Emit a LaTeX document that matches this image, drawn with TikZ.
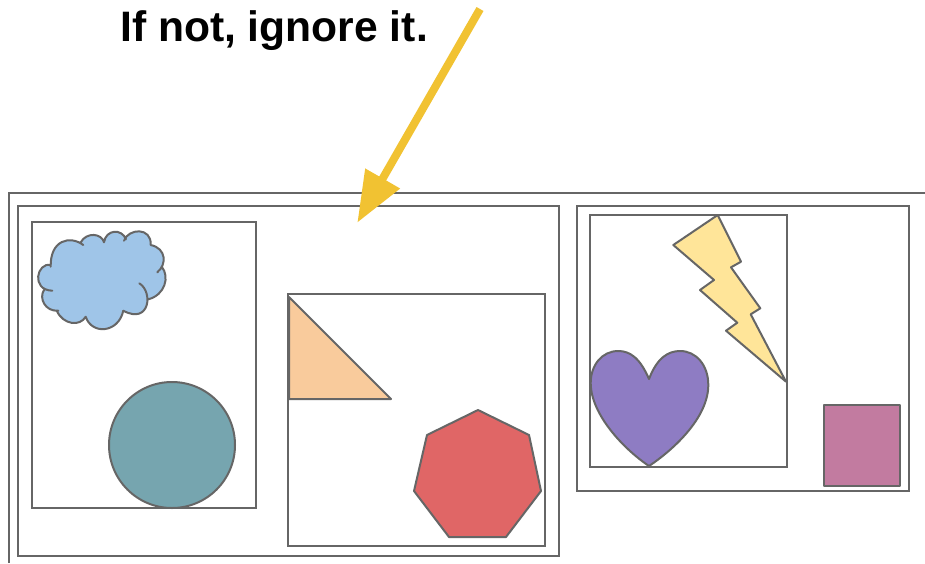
\documentclass[tikz,border=0pt]{standalone}
\usepackage{fontspec}
\setmainfont{Liberation Sans}
\usetikzlibrary{arrows.meta}
\definecolor{edgegray}{HTML}{666666}
\definecolor{arrowyellow}{HTML}{F1C232}
\definecolor{cloudblue}{HTML}{9FC5E8}
\definecolor{discteal}{HTML}{76A5AF}
\definecolor{wedgepeach}{HTML}{F9CB9C}
\definecolor{heptared}{HTML}{E06666}
\definecolor{boltyellow}{HTML}{FFE599}
\definecolor{heartpurple}{HTML}{8E7CC3}
\definecolor{squaremauve}{HTML}{C27BA0}
\newcommand{\cloudlobes}{
  (50.7,266.7) .. controls (50,240) and (70,235) .. (83.3,245)
  (80.7,242.3) .. controls (86.7,231.7) and (101.7,233.3) .. (104,242.3)
  (104,242.3) .. controls (106,229.3) and (121.7,228.3) .. (126,239.3)
  (124,240.7) .. controls (128.3,228.3) and (151.7,226.7) .. (150.7,245)
  (150.7,245) .. controls (166.7,248.3) and (166.7,265) .. (157.3,272.3)
  (161.7,266.7) .. controls (170,276.7) and (165,295) .. (148.3,299.3)
  (139.3,283.3) .. controls (153.3,291.7) and (150,325) .. (123.3,310.7)
  (123.3,310.7) .. controls (118.3,333.3) and (91.7,335) .. (85.7,316.7)
  (85.7,316.7) .. controls (80,326.7) and (63.3,325) .. (56.7,310.7)
  (58.3,310.7) .. controls (45,311.7) and (38.7,298) .. (44,290)
  (52.3,290.7) .. controls (30.5,290) and (37,262) .. (50.7,265)
}
\tikzset{
  frame/.style={draw=edgegray,line width=2pt},
  shapeline/.style={draw=edgegray,line width=2pt,line join=round}
}
\begin{document}
\begin{tikzpicture}[x=1pt,y=-1pt]
  \useasboundingbox (0,0) rectangle (925,563);
  \fill[white] (0,0) rectangle (925,563);
  \node[anchor=base west,inner sep=0pt,font=\fontsize{42.6}{48}\selectfont\bfseries] (caption) at (120,41) {If not, ignore it.};
  % boxes
  \draw[frame] (8.5,563) -- (8.5,192.5) -- (925,192.5);
  \foreach \xa/\ya/\xb/\yb in {17.5/205.5/558.5/555.5,576.5/205.5/908.5/491,
                               31.5/222/255.5/508,287.5/294/544.5/546,
                               590/214.5/786.5/467}
    \draw[frame] (\xa,\ya) rectangle (\xb,\yb);
  % left box
  \fill[cloudblue] (50.7,266) -- (62,247) -- (81,241) -- (93,238) -- (104,242) -- (115,236)
    -- (125,240) -- (138,235) -- (151,245) -- (160,257) -- (159,270) -- (163,285) -- (148,299)
    -- (140,310) -- (123,311) -- (105,325) -- (86,317) -- (72,320) -- (57,311) -- (48,305)
    -- (45,291) -- (40,280) -- cycle;
  \fill[cloudblue] \cloudlobes;
  \draw[shapeline,line cap=round] \cloudlobes;
  \draw[shapeline,fill=discteal] (172,445) circle (63);
  \draw[shapeline,fill=wedgepeach] (289,297) -- (391,399) -- (289,399) -- cycle;
  \draw[shapeline,fill=heptared] (478,410) -- (529,435) -- (541,491) -- (506,537)
    -- (449,537) -- (414,491) -- (427,435) -- cycle;
  % right box
  \draw[shapeline,fill=boltyellow] (717.7,215) -- (741,261.7) -- (731,267.3) -- (760.3,308.3)
    -- (750.7,314.3) -- (786,381.7) -- (726,330.7) -- (737.3,322.7) -- (700,290)
    -- (714,280) -- (673.3,245) -- cycle;
  \draw[shapeline,fill=heartpurple] (649,379) .. controls (640,358) and (630,351) .. (618.3,351)
    .. controls (602,351) and (590.7,365) .. (590.7,383)
    .. controls (590.7,415) and (625,450) .. (649,466)
    .. controls (673,450) and (708.3,418) .. (708.3,385)
    .. controls (708.3,365) and (696,351) .. (680,351)
    .. controls (668,351) and (657,358) .. (649,379) -- cycle;
  \draw[shapeline,fill=squaremauve] (824,405) rectangle (900,486);
  % arrow
  \coordinate (arrowstart) at (480,9);
  \coordinate (arrowtip) at (357.3,222.7);
  \draw[-{Triangle[length=51pt,width=38pt]},arrowyellow,line width=8pt] (arrowstart) -- (arrowtip);
\end{tikzpicture}
\end{document}
